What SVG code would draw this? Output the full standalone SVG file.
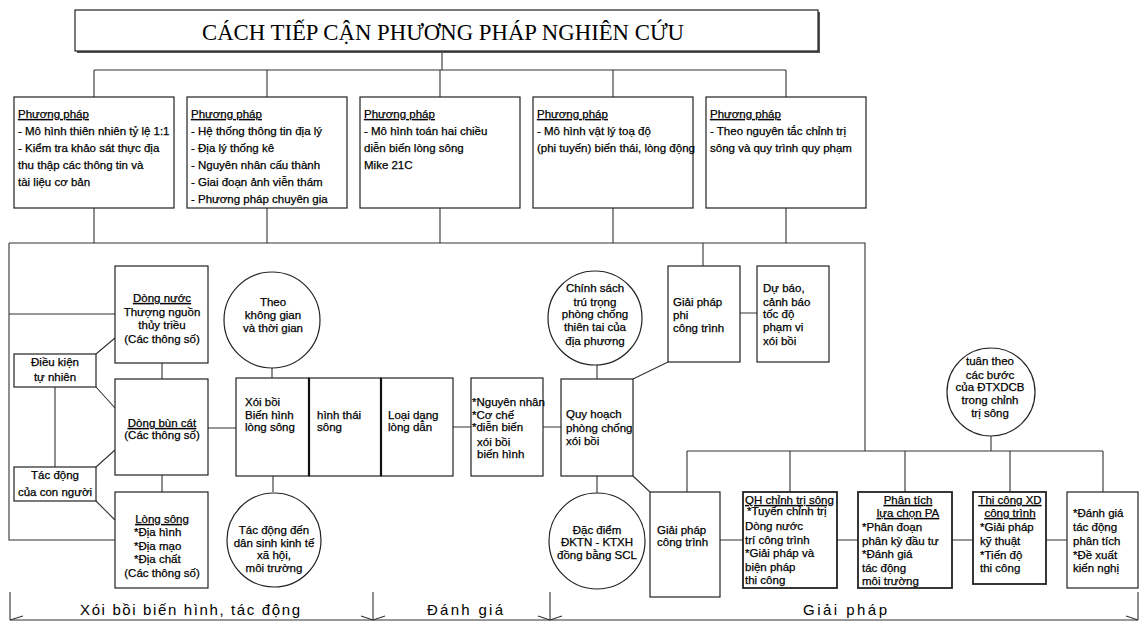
<svg xmlns="http://www.w3.org/2000/svg" width="1144" height="622" viewBox="0 0 1144 622">
<style>
.b{fill:#fff;stroke:#222;stroke-width:1.2}
.bt{fill:#fff;stroke:#222;stroke-width:1.8}
.c{fill:none;stroke:#333;stroke-width:1.1}
.t{font-family:"Liberation Sans",Arial,sans-serif;font-size:11.5px;fill:#000;stroke:#000;stroke-width:0.25}
.m{text-anchor:middle}
.u{text-decoration:underline}
.lb{font-family:"Liberation Sans",Arial,sans-serif;font-size:15px;fill:#000;text-anchor:middle}
</style>
<rect width="1144" height="622" fill="#fff"/>
<g id="connectors" class="c">
<path d="M442 51V70M94 70H786M94 70V97M267 70V97M440 70V97M613 70V97M786 70V97"/>
<path d="M94 208V243M267 208V243M440 208V243M613 208V243M786 208V243"/>
<path d="M9 243H865V451M9 243V540H115M9 314H115M703 243V266"/>
<path d="M96 354L115 338M96 387L115 408M55 387V467M96 467L115 450M96 501L115 520"/>
<path d="M162 363V379M162 475V492M208 428H236"/>
<path d="M272 368V378M273 476V492M453 427H471M543 427H561"/>
<path d="M597 365V379M597 476V493M633 379L668 362M740 313H757M633 476L650 492"/>
<path d="M687 451H1103M687 451V492M790 451V492M905 451V492M1010 451V492M1103 451V492M991 436V451"/>
<path d="M720 540H743M837 540H858M952 540H973M1046 540H1067"/>
<path d="M10 592V620M373 592V620M550 592V620M1138 592V620M10 620H1138"/>
<path d="M10 620L23 616M373 620L361 616M373 620L385 616M550 620L538 616M550 620L562 616M1138 620L1126 616"/>
</g>
<g id="title">
<rect x="77" y="12" width="743" height="41" fill="#555"/>
<rect x="75" y="10" width="743" height="41" class="b"/>
<text x="443" y="40" font-family="'Liberation Serif','Times New Roman',serif" font-size="24" text-anchor="middle" textLength="482" lengthAdjust="spacingAndGlyphs">CÁCH TIẾP CẬN PHƯƠNG PHÁP NGHIÊN CỨU</text>
</g>
<g id="method1">
<rect x="14" y="97" width="160" height="111" class="b"/>
<text class="t"><tspan x="18" y="118" class="u">Phương pháp</tspan><tspan x="18" y="135">- Mô hình thiên nhiên tỷ lệ 1:1</tspan><tspan x="18" y="152">- Kiểm tra khảo sát thực địa</tspan><tspan x="18" y="169">thu thập các thông tin và</tspan><tspan x="18" y="186">tài liệu cơ bản</tspan></text>
</g>
<g id="method2">
<rect x="187" y="97" width="160" height="111" class="b"/>
<text class="t"><tspan x="191" y="118" class="u">Phương pháp</tspan><tspan x="191" y="135">- Hệ thống thông tin địa lý</tspan><tspan x="191" y="152">- Địa lý thống kê</tspan><tspan x="191" y="169">- Nguyên nhân cấu thành</tspan><tspan x="191" y="186">- Giai đoạn ảnh viễn thám</tspan><tspan x="191" y="203">- Phương pháp chuyên gia</tspan></text>
</g>
<g id="method3">
<rect x="360" y="97" width="160" height="111" class="b"/>
<text class="t"><tspan x="364" y="118" class="u">Phương pháp</tspan><tspan x="364" y="135">- Mô hình toán hai chiều</tspan><tspan x="364" y="152">diễn biến lòng sông</tspan><tspan x="364" y="169">Mike 21C</tspan></text>
</g>
<g id="method4">
<rect x="533" y="97" width="160" height="111" class="b"/>
<text class="t"><tspan x="537" y="118" class="u">Phương pháp</tspan><tspan x="537" y="135">- Mô hình vật lý toạ độ</tspan><tspan x="537" y="152">(phi tuyến) biến thái, lòng động</tspan></text>
</g>
<g id="method5">
<rect x="706" y="97" width="160" height="111" class="b"/>
<text class="t"><tspan x="710" y="118" class="u">Phương pháp</tspan><tspan x="710" y="135">- Theo nguyên tắc chỉnh trị</tspan><tspan x="710" y="152">sông và quy trình quy phạm</tspan></text>
</g>
<g id="dongnuoc">
<rect x="115" y="266" width="93" height="97" class="b"/>
<text class="t m"><tspan x="162" y="302" class="u">Dòng nước</tspan><tspan x="162" y="316">Thượng nguồn</tspan><tspan x="162" y="329">thủy triều</tspan><tspan x="162" y="343">(Các thông số)</tspan></text>
</g>
<g id="dieukien">
<rect x="14" y="354" width="82" height="33" class="b"/>
<text class="t m"><tspan x="55" y="366">Điều kiện</tspan><tspan x="55" y="381">tự nhiên</tspan></text>
</g>
<g id="dongbuncat">
<rect x="115" y="379" width="93" height="96" class="b"/>
<text class="t m"><tspan x="162" y="427" class="u">Dòng bùn cát</tspan><tspan x="162" y="439">(Các thông số)</tspan></text>
</g>
<g id="tacdong">
<rect x="14" y="467" width="82" height="34" class="b"/>
<text class="t m"><tspan x="55" y="479">Tác động</tspan><tspan x="55" y="496">của con người</tspan></text>
</g>
<g id="longsong">
<rect x="115" y="492" width="93" height="96" class="b"/>
<text class="t"><tspan x="162" y="523" class="u m">Lòng sông</tspan><tspan x="134" y="536">*Địa hình</tspan><tspan x="134" y="550">*Địa mạo</tspan><tspan x="134" y="563">*Địa chất</tspan><tspan x="162" y="577" class="m">(Các thông số)</tspan></text>
</g>
<g id="theokhonggian">
<circle cx="272" cy="320" r="48" class="b"/>
<text class="t m"><tspan x="273" y="306">Theo</tspan><tspan x="273" y="319">không gian</tspan><tspan x="273" y="332">và thời gian</tspan></text>
</g>
<g id="xoiboi">
<rect x="236" y="378" width="73" height="98" class="b"/>
<text class="t"><tspan x="245" y="406">Xói bồi</tspan><tspan x="245" y="419">Biến hình</tspan><tspan x="245" y="431">lòng sông</tspan></text>
</g>
<g id="hinhthai">
<rect x="309" y="378" width="72" height="98" class="b"/>
<line x1="309" y1="378" x2="309" y2="476" stroke="#111" stroke-width="2.2"/>
<text class="t"><tspan x="317" y="419">hình thái</tspan><tspan x="317" y="431">sông</tspan></text>
</g>
<g id="loaidang">
<rect x="381" y="378" width="72" height="98" class="b"/>
<line x1="381" y1="378" x2="381" y2="476" stroke="#111" stroke-width="2.2"/>
<text class="t"><tspan x="388" y="419">Loại dạng</tspan><tspan x="388" y="431">lòng dẫn</tspan></text>
</g>
<g id="nguyennhan">
<rect x="471" y="378" width="72" height="98" class="b"/>
<text class="t"><tspan x="472" y="406">*Nguyên nhân</tspan><tspan x="472" y="419">*Cơ chế</tspan><tspan x="472" y="431">*diễn biến</tspan><tspan x="477" y="446">xói bồi</tspan><tspan x="477" y="458">biến hình</tspan></text>
</g>
<g id="tacdongden">
<circle cx="274" cy="540" r="47" class="b"/>
<text class="t m"><tspan x="274" y="534">Tác động đến</tspan><tspan x="274" y="547">dân sinh kinh tế</tspan><tspan x="274" y="559">xã hội,</tspan><tspan x="274" y="572">môi trường</tspan></text>
</g>
<g id="chinhsach">
<circle cx="595" cy="318" r="47" class="b"/>
<text class="t m"><tspan x="595" y="292">Chính sách</tspan><tspan x="595" y="306">trú trọng</tspan><tspan x="595" y="318">phòng chống</tspan><tspan x="595" y="331">thiên tai của</tspan><tspan x="595" y="345">địa phương</tspan></text>
</g>
<g id="quyhoach">
<rect x="561" y="379" width="72" height="97" class="b"/>
<text class="t"><tspan x="566" y="418">Quy hoạch</tspan><tspan x="566" y="432">phòng chống</tspan><tspan x="566" y="445">xói bồi</tspan></text>
</g>
<g id="giaiphapphi">
<rect x="668" y="266" width="72" height="96" class="b"/>
<text class="t"><tspan x="673" y="306">Giải pháp</tspan><tspan x="673" y="319">phi</tspan><tspan x="673" y="332">công trình</tspan></text>
</g>
<g id="dubao">
<rect x="757" y="266" width="72" height="96" class="b"/>
<text class="t"><tspan x="763" y="292">Dự báo,</tspan><tspan x="763" y="306">cảnh báo</tspan><tspan x="763" y="318">tốc độ</tspan><tspan x="763" y="331">phạm vi</tspan><tspan x="763" y="345">xói bồi</tspan></text>
</g>
<g id="dacdiem">
<circle cx="597" cy="541" r="48" class="b"/>
<text class="t m"><tspan x="597" y="534">Đặc điểm</tspan><tspan x="597" y="546">ĐKTN - KTXH</tspan><tspan x="597" y="559">đồng bằng SCL</tspan></text>
</g>
<g id="tuantheo">
<circle cx="991" cy="392" r="44" class="b"/>
<text class="t m"><tspan x="990" y="365">tuân theo</tspan><tspan x="990" y="379">các bước</tspan><tspan x="990" y="391">của ĐTXDCB</tspan><tspan x="990" y="404">trong chỉnh</tspan><tspan x="990" y="417">trị sông</tspan></text>
</g>
<g id="giaiphapct">
<rect x="650" y="492" width="70" height="105" class="b"/>
<text class="t"><tspan x="657" y="534">Giải pháp</tspan><tspan x="657" y="546">công trình</tspan></text>
</g>
<g id="qhchinhtri">
<rect x="743" y="492" width="94" height="96" class="bt"/>
<text class="t"><tspan x="745" y="504" class="u">QH chỉnh trị sông</tspan><tspan x="747" y="515">*Tuyến chỉnh trị</tspan><tspan x="745" y="530">Dòng nước</tspan><tspan x="745" y="544">trí công trình</tspan><tspan x="745" y="557">*Giải pháp và</tspan><tspan x="745" y="571">biện pháp</tspan><tspan x="745" y="584">thi công</tspan></text>
</g>
<g id="phantich">
<rect x="858" y="492" width="94" height="96" class="bt"/>
<text class="t"><tspan x="908" y="504" class="u m">Phân tích</tspan><tspan x="908" y="517" class="u m">lựa chọn PA</tspan><tspan x="862" y="531">*Phân đoạn</tspan><tspan x="862" y="545">phân kỳ đầu tư</tspan><tspan x="862" y="558">*Đánh giá</tspan><tspan x="862" y="572">tác động</tspan><tspan x="862" y="585">môi trường</tspan></text>
</g>
<g id="thicong">
<rect x="973" y="492" width="73" height="92" class="bt"/>
<text class="t"><tspan x="1010" y="504" class="u m">Thi công XD</tspan><tspan x="1010" y="517" class="u m">công trình</tspan><tspan x="980" y="531">*Giải pháp</tspan><tspan x="980" y="545">kỹ thuật</tspan><tspan x="980" y="559">*Tiến độ</tspan><tspan x="980" y="572">thi công</tspan></text>
</g>
<g id="danhgia">
<rect x="1067" y="492" width="71" height="96" class="b"/>
<text class="t"><tspan x="1073" y="517">*Đánh giá</tspan><tspan x="1073" y="531">tác động</tspan><tspan x="1073" y="545">phân tích</tspan><tspan x="1073" y="559">*Đề xuất</tspan><tspan x="1073" y="572">kiến nghị</tspan></text>
</g>
<g id="labels">
<text class="lb" x="190" y="615" textLength="220" lengthAdjust="spacing">Xói bồi biến hình, tác động</text>
<text class="lb" x="465" y="615" textLength="76" lengthAdjust="spacing">Đánh giá</text>
<text class="lb" x="845" y="615" textLength="84" lengthAdjust="spacing">Giải pháp</text>
</g>
</svg>
